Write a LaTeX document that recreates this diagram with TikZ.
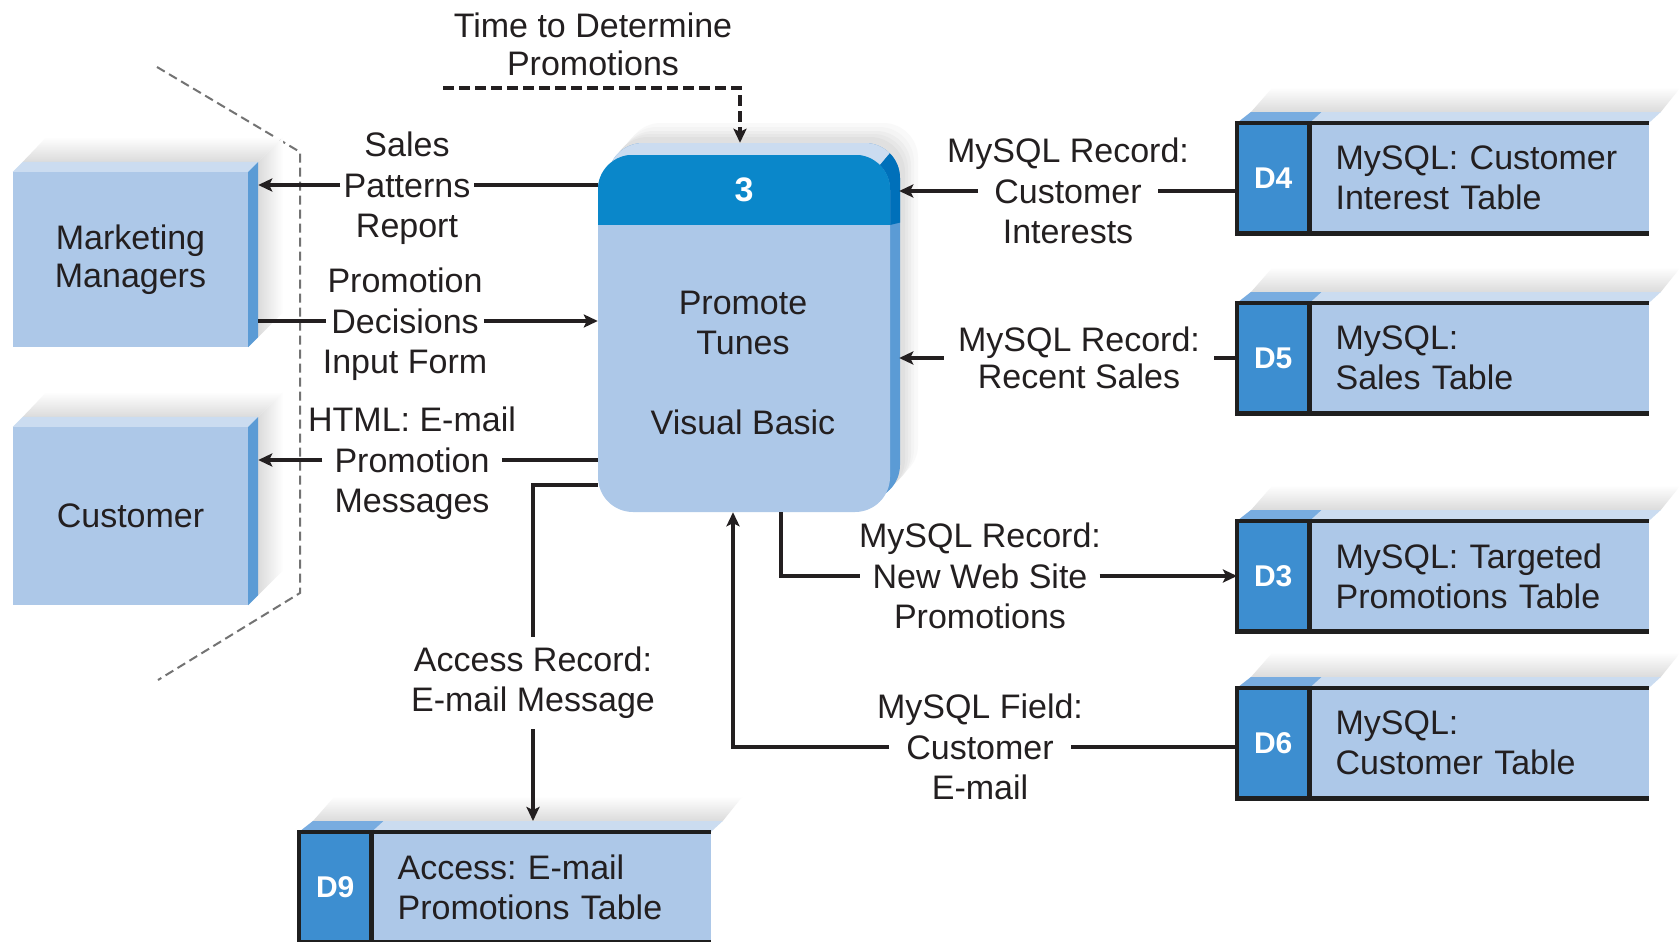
\documentclass[tikz,border=0pt]{standalone}
\usepackage{fontspec}
\setmainfont{Liberation Sans}
\usetikzlibrary{arrows.meta,calc}
\definecolor{bodyblue}{RGB}{173,200,232}
\definecolor{headblue}{RGB}{10,135,202}
\definecolor{sideblue}{RGB}{91,155,213}
\definecolor{topblue}{RGB}{203,220,240}
\definecolor{idblue}{RGB}{61,142,208}
\definecolor{idtop}{RGB}{120,172,224}
\definecolor{headside}{RGB}{0,112,186}
\definecolor{txt}{RGB}{35,31,32}
\tikzset{
  lbl/.style={inner sep=0pt, align=center},
  mid/.style={inner ysep=0pt, text height=24.5pt, text depth=0pt},
  lbx/.style={inner sep=0pt, text height=24.5pt, text depth=0pt, label distance=15.5pt},
  ent/.style={fill=bodyblue, inner sep=0pt, align=center, font=\fontsize{34pt}{38pt}\selectfont},
  proc/.style={fill=bodyblue, rounded corners=35pt, minimum width=292pt, minimum height=357pt, inner sep=0pt},
  dsid/.style={fill=idblue, text=white, minimum width=72pt, minimum height=110pt, inner sep=0pt, font=\fontsize{30pt}{34pt}\selectfont\bfseries},
  dstext/.style={fill=bodyblue, minimum height=110pt, text width=287pt, inner xsep=26pt, inner ysep=0pt, align=left},
  dsline/.style={draw=black!88, line width=4.5pt, line join=miter},
  plain/.style={draw=txt, line width=3.8pt},
  flow/.style={draw=txt, line width=3.8pt, -{Stealth[length=14pt,width=13pt,inset=3pt]}},
  flowd/.style={flow, dash pattern=on 11pt off 5pt},
  bound/.style={draw=black!55, line width=2pt, dash pattern=on 9pt off 5pt},
  pshadow/.style={rounded corners=35pt},
}
\newcommand\entdeco[1]{%
  \shade[top color=white, bottom color=gray!28] ([shift={(10,-10)}]#1.north west) -- ([shift={(34,-35)}]#1.north west) -- ([shift={(35,-35)}]#1.north east) -- ([shift={(10,-10)}]#1.north east) -- cycle;
  \shade[left color=gray!28, right color=white] ([shift={(10,-10)}]#1.north east) -- ([shift={(35,-35)}]#1.north east) -- ([shift={(35,-35)}]#1.south east) -- ([shift={(10,-10)}]#1.south east) -- cycle;
  \fill[topblue] (#1.north west) -- ++(10,-10) -- ([shift={(10,-10)}]#1.north east) -- (#1.north east) -- cycle;
  \fill[sideblue] (#1.north east) -- ++(10,-10) -- ([shift={(10,-10)}]#1.south east) -- (#1.south east) -- cycle;
}
\newcommand\dstore[5]{%
  \node[dsid, anchor=north west] (#1i) at (#2,#3) {#4};
  \node[dstext, anchor=north west] (#1) at (#1i.north east) {#5};
  \shade[top color=white, bottom color=gray!28] ([shift={(14,-11)}]#1i.north west) -- ([shift={(36,-36)}]#1i.north west) -- ([shift={(32,-36)}]#1.north east) -- ([shift={(12,-11)}]#1.north east) -- cycle;
  \fill[topblue] (#1i.north west) -- ++(14,-11) -- ([shift={(12,-11)}]#1.north east) -- (#1.north east) -- cycle;
  \fill[idtop] (#1i.north west) -- ++(14,-11) -- ([shift={(12,-11)}]#1i.north east) -- (#1i.north east) -- cycle;
  \draw[dsline] (#1.north east) -- (#1i.north west) -- (#1i.south west) -- (#1.south east);
  \draw[dsline] (#1i.north east) -- (#1i.south east);
}
\begin{document}
\frenchspacing
\begin{tikzpicture}[x=1pt,y=-1pt, font=\fontsize{34pt}{40pt}\selectfont, text=txt]
\path[fill=white, use as bounding box] (0,0) rectangle (1679,942);

% system boundary
\draw[bound] (157,67) -- (300,152) -- (300,593) -- (158,680);

% external entities
\node[ent, minimum width=235pt, minimum height=175pt] (mm) at (130.5,259.5) {Marketing\\Managers};
\node[ent, minimum width=235pt, minimum height=178pt] (cu) at (130.5,516) {Customer};
\entdeco{mm}
\entdeco{cu}
\coordinate (mmside) at ([xshift=10pt]mm.east);
\coordinate (cuside) at ([xshift=10pt]cu.east);

% process 3D extrusion and soft shadow
\fill[pshadow, gray!5] (626,123) rectangle (918,480);
\fill[pshadow, gray!9] (622,127) rectangle (914,484);
\fill[pshadow, gray!14] (619,131) rectangle (911,488);
\fill[pshadow, gray!19] (616,134) rectangle (908,491);
\fill[pshadow, gray!24] (613,137) rectangle (905,494);
\begin{scope}
  \clip[rounded corners=35pt] (608,143) rectangle (900,500);
  \fill[sideblue] (600,130) rectangle (910,510);
  \fill[topblue] (590,110) -- (926,110) -- (880,165) -- (590,165) -- cycle;
  \fill[headside] (926,110) -- (940,110) -- (940,213) -- (890,225) -- (880,225) -- (880,165) -- cycle;
\end{scope}
\node[proc] (p) at (744,333.5) {};
\begin{scope}
  \clip[rounded corners=35pt] (p.south west) rectangle (p.north east);
  \fill[headblue] (p.north west) rectangle ([yshift=-70pt]p.north east);
\end{scope}
\node[font=\fontsize{34pt}{40pt}\selectfont\bfseries, text=white, inner sep=0pt] (pn) at (744,190) {3};
\node[lbl, anchor=north] (pt) at (743,291) {Promote\\Tunes\\[40pt]Visual Basic};
\coordinate (pside) at ([xshift=9pt]p.east);
\coordinate (ptop) at ([shift={(-4,-12)}]p.north);

% data stores
\dstore{d4}{1237}{123}{D4}{MySQL: Customer\\Interest Table}
\dstore{d5}{1237}{303}{D5}{MySQL:\\Sales Table}
\dstore{d3}{1237}{521}{D3}{MySQL: Targeted\\Promotions Table}
\dstore{d6}{1237}{688}{D6}{MySQL:\\Customer Table}
\dstore{d9}{299}{832}{D9}{Access: E-mail\\Promotions Table}
\coordinate (d9t) at ([yshift=11pt]d9.north);

% time trigger
\node[lbl, anchor=north, font=\fontsize{34pt}{38pt}\selectfont] (tl) at (593,13) {Time to Determine\\Promotions};
\coordinate (tstart) at (443,88);
\draw[flowd] (tstart) -| (ptop);

% Sales Patterns Report
\node[mid, inner xsep=3pt, label={[lbx]above:Sales}, label={[lbx]below:Report}] (pat) at (407,185) {Patterns};
\draw[flow] (pat.west) -- (mmside |- pat.west);
\draw[plain] (p.west |- pat.east) -- (pat.east);

% Promotion Decisions Input Form
\node[mid, inner xsep=5pt, label={[lbx]above:Promotion}, label={[lbx]below:{Input Form}}] (dec) at (405,321) {Decisions};
\draw[plain] (mmside |- dec.west) -- (dec.west);
\draw[flow] (dec.east) -- (p.west |- dec.east);

% HTML: E-mail Promotion Messages
\node[mid, inner xsep=12pt, label={[lbx]above:{HTML: E-mail}}, label={[lbx]below:Messages}] (prm) at (412,460) {Promotion};
\draw[flow] (prm.west) -- (cuside |- prm.west);
\draw[plain] (p.west |- prm.east) -- (prm.east);

% Access Record: E-mail Message
\node[lbl, inner ysep=10pt] (acc) at (533,683) {Access Record:\\E-mail Message};
\coordinate (pa) at (p.west |- 0,485);
\draw[plain] (pa) -| (acc.north);
\draw[flow] (acc.south) -- (acc.south |- d9t);

% MySQL Field: Customer E-mail
\node[mid, inner xsep=17pt, label={[lbx]above:{MySQL Field:}}, label={[lbx]below:E-mail}] (cem) at (980,747) {Customer};
\coordinate (pb1) at (p.south -| 733,0);
\draw[plain] (d6i.west |- cem.east) -- (cem.east);
\draw[flow] (cem.west) -| (pb1);

% MySQL Record: New Web Site Promotions
\node[mid, inner xsep=12pt, label={[lbx]above:{MySQL Record:}}, label={[lbx]below:Promotions}] (nws) at (980,576) {New Web Site};
\coordinate (pb2) at (p.south -| 781,0);
\draw[plain] (pb2) |- (nws.west);
\draw[flow] (nws.east) -- (d3i.west |- nws.east);

% MySQL Record: Customer Interests
\node[mid, inner xsep=16pt, label={[lbx]above:{MySQL Record:}}, label={[lbx]below:Interests}] (ci) at (1068,191) {Customer};
\draw[flow] (ci.west) -- (pside |- ci.west);
\draw[plain] (d4i.west |- ci.east) -- (ci.east);

% MySQL Record: Recent Sales
\node[lbl, inner xsep=14pt, font=\fontsize{34pt}{37pt}\selectfont] (rs) at (1079,358) {MySQL Record:\\Recent Sales};
\draw[flow] (rs.west) -- (pside |- rs.west);
\draw[plain] (d5i.west |- rs.east) -- (rs.east);
\end{tikzpicture}
\end{document}
